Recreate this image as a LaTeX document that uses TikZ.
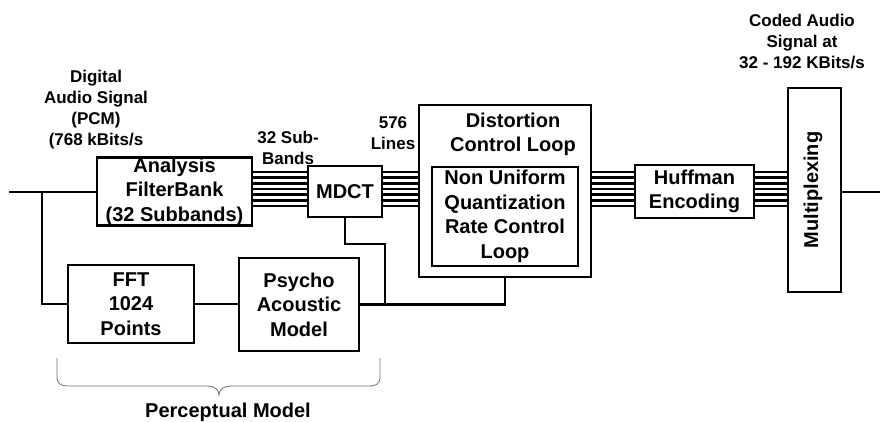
\documentclass[tikz,border=0pt]{standalone}
\usepackage{fontspec}
\setmainfont{Liberation Sans}
\usetikzlibrary{calc}
\begin{document}
\begin{tikzpicture}[x=1pt,y=-1pt,
  box/.style={draw, line width=2.6pt, inner sep=0pt, align=center,
    font=\bfseries\fontsize{20}{24.5}\selectfont},
  txt/.style={inner sep=0pt, align=center,
    font=\bfseries\fontsize{20}{24.5}\selectfont},
  lbl/.style={inner sep=0pt, align=center,
    font=\bfseries\fontsize{17}{21}\selectfont},
  wire/.style={line width=2.6pt},
  brace/.style={draw=black!55, line width=0.8pt}]
\useasboundingbox (0,0) rectangle (895,422);

% processing blocks
\node[box, minimum width=155pt, minimum height=67pt] (ana) at (174.5,191.5)
  {Analysis\\FilterBank\\(32 Subbands)};
\node[box, minimum width=74pt, minimum height=51pt] (mdct) at (345,191.5) {MDCT};
\node[box, minimum width=172pt, minimum height=172pt] (dist) at (505,191) {};
\node[txt, anchor=north] (disttxt) at (513,112.7) {Distortion\\Control Loop};
\node[box, minimum width=146pt, minimum height=99pt] (quant) at (505,216.5)
  {Non Uniform\\Quantization\\Rate Control\\Loop};
\node[box, minimum width=119pt, minimum height=53pt] (huff) at (694.5,191.5)
  {Huffman\\Encoding};
\node[box, minimum width=53pt, minimum height=204pt] (mux) at (814.5,190) {};
\node[txt, rotate=90] (muxtxt) at ([xshift=-1.5pt]mux.center) {Multiplexing};
\node[box, minimum width=126pt, minimum height=78pt] (fft) at (131,304)
  {FFT\\1024\\Points};
\node[box, minimum width=120pt, minimum height=93pt] (psy) at (299,304.5)
  {Psycho\\Acoustic\\Model};

% signal labels
\node[lbl, anchor=north] (insig) at (96,69.8)
  {Digital\\Audio Signal\\(PCM)\\(768 kBits/s};
\node[lbl, anchor=north] (subb) at (288,130.8) {32 Sub-\\Bands};
\node[lbl, anchor=north] (lines) at (393,116.8) {576\\Lines};
\node[lbl, anchor=north] (coded) at (802,13.8)
  {Coded Audio\\Signal at\\32 - 192 KBits/s};
\node[txt, anchor=base] (pm) at (228,417) {Perceptual Model};

% single connections
\coordinate (in) at (9,192);
\coordinate (tap) at (42,192);
\coordinate (mk) at (385,244);
\coordinate (out) at (880,192);
\draw[wire] (in) -- (in -| ana.west);
\draw[wire] (tap) |- (fft.west);
\draw[wire] (fft.east) -- (fft.east -| psy.west);
\draw[wire] (psy.east) -| (dist.south);
\draw[wire] (mdct.south) |- (mk) -- (mk |- psy.east);
\draw[wire] (mux.east |- out) -- (out);

% parallel buses
\foreach \k in {-3,...,3}{
  \pgfmathsetmacro\yy{189+5.7*\k}
  \draw[wire] (ana.east |- 0,\yy) -- (mdct.west |- 0,\yy);
  \draw[wire] (mdct.east |- 0,\yy) -- (dist.west |- 0,\yy);
  \draw[wire] (dist.east |- 0,\yy) -- (huff.west |- 0,\yy);
  \draw[wire] (huff.east |- 0,\yy) -- (mux.west |- 0,\yy);
}

% brace under the perceptual model
\draw[brace] (57,358) -- (57,376) .. controls (57,384) and (60,386) .. (70,386)
  -- (206,386) .. controls (215,386) and (219,389) .. (219,396)
  .. controls (219,389) and (223,386) .. (232,386)
  -- (367,386) .. controls (377,386) and (380,384) .. (380,376) -- (380,358);
\end{tikzpicture}
\end{document}
